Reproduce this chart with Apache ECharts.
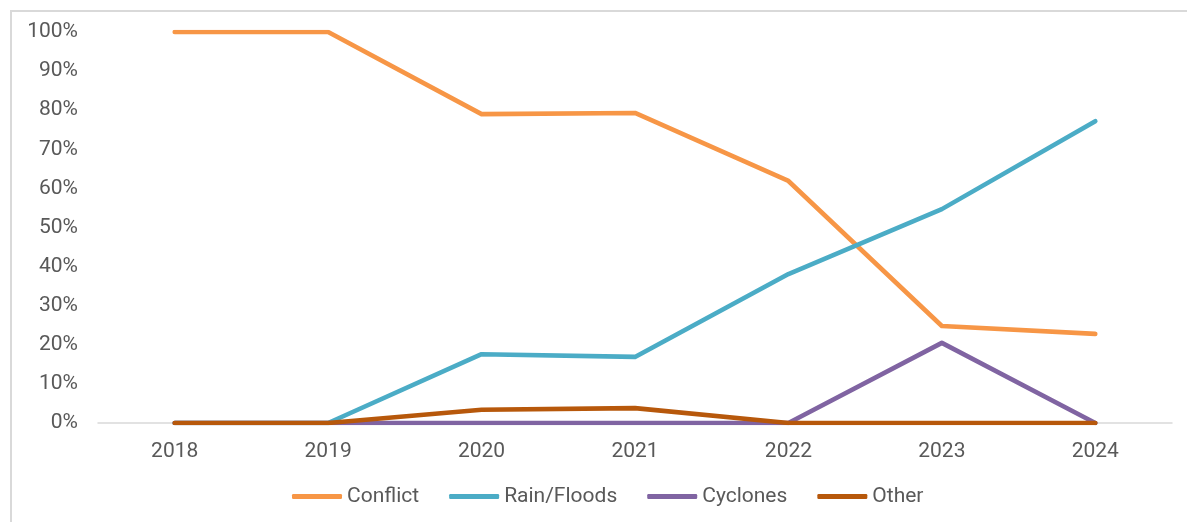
<!DOCTYPE html>
<html>
<head>
<meta charset="utf-8">
<script src="https://cdn.jsdelivr.net/npm/echarts@6/dist/echarts.min.js"></script>
<style>
  html, body { margin: 0; padding: 0; background: #ffffff; }
  #frame {
    position: absolute; left: 10px; top: 10px; width: 1187px; height: 522px;
    border-top: 2px solid #d9d9d9; border-left: 2px solid #d9d9d9; box-sizing: border-box;
  }
  #chart { position: absolute; left: 0; top: 0; width: 1187px; height: 522px; }
</style>
</head>
<body>
<div id="frame"></div>
<div id="chart"></div>
<script>
// Share of displacement by cause, per year (%)
const years = ['2018', '2019', '2020', '2021', '2022', '2023', '2024'];
const conflict = [100, 100, 79.0, 79.3, 61.9, 24.8, 22.8];
const rainFloods = [0, 0, 17.6, 16.9, 38.1, 54.7, 77.2];
const cyclones = [0, 0, 0, 0, 0, 20.5, 0];
const other = [0, 0, 3.4, 3.8, 0, 0, 0];
const yTicks = [0, 10, 20, 30, 40, 50, 60, 70, 80, 90, 100];

const FONT = 'Roboto';
const TEXT = '#595959';
const FS = 21;

function lineSeries(name, data, color) {
  return {
    name: name,
    type: 'line',
    data: data,
    showSymbol: false,
    symbol: 'none',
    color: color,
    lineStyle: { width: 4.6, color: color, cap: 'round', join: 'round' },
    emphasis: { disabled: true }
  };
}

const chart = echarts.init(document.getElementById('chart'), null, { renderer: 'canvas' });
chart.setOption({
  animation: false,
  textStyle: { fontFamily: FONT },
  grid: { left: 98, right: 15, top: 32, bottom: 99, containLabel: false },
  xAxis: {
    type: 'category',
    data: years,
    boundaryGap: true,
    axisLine: { show: true, lineStyle: { color: '#d9d9d9', width: 1.5 } },
    axisTick: { show: false },
    axisLabel: { color: TEXT, fontSize: FS, fontFamily: FONT, margin: 18 },
    splitLine: { show: false }
  },
  yAxis: {
    type: 'value',
    min: yTicks[0],
    max: yTicks[yTicks.length - 1],
    interval: yTicks[1] - yTicks[0],
    axisLine: { show: false },
    axisTick: { show: false },
    splitLine: { show: false },
    axisLabel: { color: TEXT, fontSize: FS, fontFamily: FONT, margin: 20, formatter: v => v + '%' }
  },
  legend: {
    left: 287,
    top: 481,
    icon: 'roundRect',
    itemWidth: 50,
    itemHeight: 5,
    itemGap: 30,
    textStyle: { color: TEXT, fontSize: FS, fontFamily: FONT },
    data: ['Conflict', 'Rain/Floods', 'Cyclones', 'Other']
  },
  series: [
    lineSeries('Conflict', conflict, '#F79646'),
    lineSeries('Rain/Floods', rainFloods, '#4BACC6'),
    lineSeries('Cyclones', cyclones, '#8064A2'),
    lineSeries('Other', other, '#B7580B')
  ]
});
</script>
</body>
</html>
